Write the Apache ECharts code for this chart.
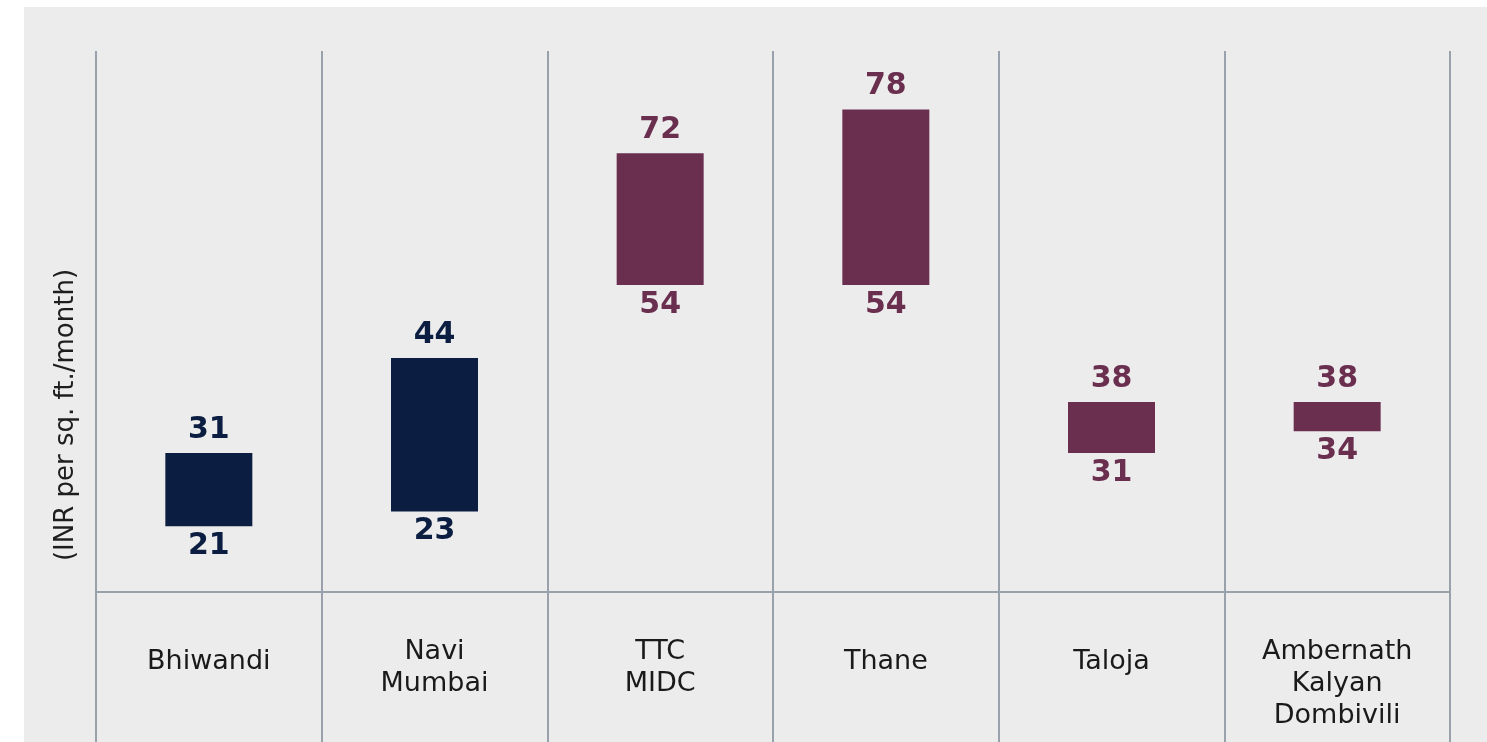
<!DOCTYPE html>
<html>
<head>
<meta charset="utf-8">
<script src="https://cdn.jsdelivr.net/npm/echarts@6/dist/echarts.min.js"></script>
<style>
  html, body { margin: 0; padding: 0; background: #ffffff; }
  #chart { width: 1487px; height: 742px; }
</style>
</head>
<body>
<div id="chart"></div>
<script>
// ---- data ----
const categories = ['Bhiwandi', 'Navi\nMumbai', 'TTC\nMIDC', 'Thane', 'Taloja', 'Ambernath\nKalyan\nDombivili'];
const lowValues  = [21, 23, 54, 54, 31, 34];
const highValues = [31, 44, 72, 78, 38, 38];
const axisTitle = '(INR per sq. ft./month)';

// ---- styling ----
const NAVY = '#0b1d41';
const MAROON = '#6a2f4f';
const barColors = [NAVY, NAVY, MAROON, MAROON, MAROON, MAROON];
const LINE = '#99a2ac';
const FONT = '"DejaVu Sans", Verdana, sans-serif';

const spans = highValues.map((h, i) => h - lowValues[i]);

// single-line labels sit a little lower than the first line of multi-line ones
const categoryItems = categories.map(c =>
  c.indexOf('\n') < 0 ? { value: c, textStyle: { lineHeight: 52 } } : c
);

const chart = echarts.init(document.getElementById('chart'), null, { renderer: 'canvas' });

chart.setOption({
  animation: false,
  backgroundColor: 'transparent',
  graphic: [
    { type: 'rect', z: -10, shape: { x: 24, y: 7, width: 1487 - 24, height: 742 - 7 }, style: { fill: '#ececec' }, silent: true },
    {
      type: 'text', z: 10, x: 66, y: 415, rotation: Math.PI / 2,
      style: { text: axisTitle, fill: '#1e1e1e', font: '26px ' + FONT, textAlign: 'center', textVerticalAlign: 'middle' }
    }
  ],
  grid: { left: 96, right: 37, top: 51, bottom: 150, containLabel: false, outerBoundsMode: 'none' },
  xAxis: {
    type: 'category',
    data: categoryItems,
    boundaryGap: true,
    axisLine: { show: true, lineStyle: { color: LINE, width: 2 } },
    axisTick: { show: true, interval: 0, length: 152, lineStyle: { color: LINE, width: 2 } },
    splitLine: { show: true, interval: 0, lineStyle: { color: LINE, width: 2 } },
    axisLabel: {
      interval: 0, margin: 44, color: '#1a1a1a', fontFamily: FONT, fontWeight: 'normal',
      fontSize: 27, lineHeight: 32, verticalAlign: 'top'
    }
  },
  yAxis: {
    type: 'value', min: 12, max: 86,
    axisLine: { show: false }, axisTick: { show: false },
    axisLabel: { show: false }, splitLine: { show: false }
  },
  series: [
    {
      type: 'bar', stack: 'range', barWidth: 87,
      data: lowValues.map((v, i) => ({
        value: v,
        itemStyle: { color: 'rgba(0,0,0,0)' },
        label: { color: barColors[i] }
      })),
      label: {
        show: true, position: 'insideTop', distance: 5,
        fontFamily: FONT, fontWeight: 'bold', fontSize: 30,
        formatter: p => String(lowValues[p.dataIndex])
      },
      silent: true
    },
    {
      type: 'bar', stack: 'range', barWidth: 87,
      data: spans.map((v, i) => ({
        value: v,
        itemStyle: { color: barColors[i] },
        label: { color: barColors[i] }
      })),
      label: {
        show: true, position: 'top', distance: 8,
        fontFamily: FONT, fontWeight: 'bold', fontSize: 30,
        formatter: p => String(highValues[p.dataIndex])
      }
    }
  ]
});
</script>
</body>
</html>
